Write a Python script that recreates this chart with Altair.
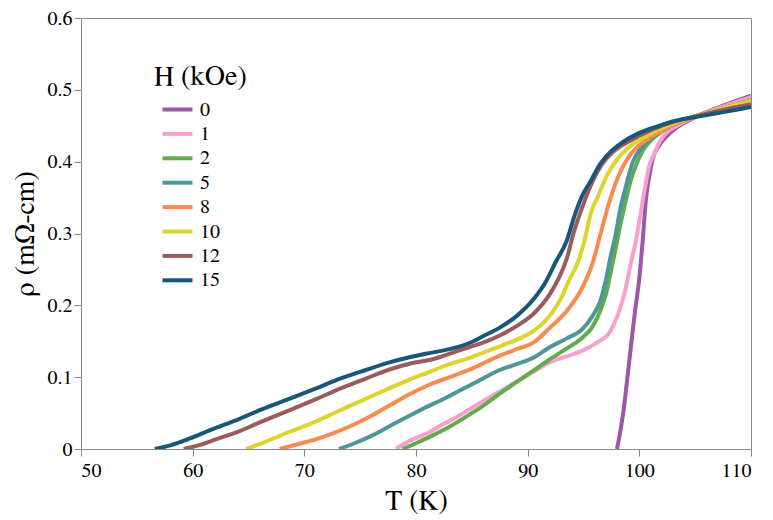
import altair as alt
import pandas as pd

fields = ["0", "1", "2", "5", "8", "10", "12", "15"]
colors = ["#9b58a9", "#f7a0cd", "#62ac4f", "#4f9797", "#f98b50", "#dcd52e", "#9b5a5b", "#17577a"]

T_0 = [98.0, 98.3, 98.6, 98.9, 99.3, 99.6, 100.0, 100.3, 100.6, 100.9, 101.2, 101.8, 102.5, 103.5, 105.0, 107.0, 110.0]
R_0 = [0.0, 0.025, 0.055, 0.095, 0.15, 0.19, 0.238, 0.29, 0.349, 0.38, 0.404, 0.423, 0.436, 0.449, 0.462, 0.475, 0.492]

T_1 = [78.2, 79.5, 81.0, 82.5, 83.7, 85.5, 87.5, 89.0, 90.5, 92.0, 93.5, 94.9, 96.2, 97.4, 98.3, 98.8, 99.2, 99.7, 100.1, 100.6, 100.9, 101.4, 101.8, 102.5, 103.5, 105.0, 107.0, 110.0]
R_1 = [0.0, 0.012, 0.022, 0.035, 0.045, 0.062, 0.080, 0.094, 0.107, 0.121, 0.129, 0.137, 0.148, 0.164, 0.197, 0.225, 0.256, 0.29, 0.326, 0.372, 0.395, 0.413, 0.427, 0.441, 0.451, 0.463, 0.474, 0.490]

T_2 = [78.8, 80.0, 81.5, 83.0, 84.5, 86.0, 87.5, 89.0, 90.5, 92.0, 93.5, 94.9, 95.8, 96.5, 97.0, 97.4, 97.9, 98.3, 98.5, 99.2, 99.7, 100.3, 101.2, 102.0, 103.0, 105.0, 107.5, 110.0]
R_2 = [0.0, 0.008, 0.019, 0.031, 0.045, 0.060, 0.077, 0.093, 0.109, 0.125, 0.140, 0.155, 0.170, 0.192, 0.215, 0.243, 0.280, 0.312, 0.326, 0.372, 0.395, 0.415, 0.432, 0.442, 0.451, 0.463, 0.474, 0.486]

T_5 = [73.1, 74.5, 76.1, 77.9, 79.5, 81.0, 82.4, 84.0, 85.5, 87.5, 89.0, 90.5, 92.0, 93.5, 94.9, 95.8, 96.5, 97.0, 97.4, 97.9, 98.3, 98.7, 99.4, 100.2, 100.9, 102.0, 103.0, 105.0, 107.5, 110.0]
R_5 = [0.0, 0.008, 0.019, 0.034, 0.047, 0.059, 0.069, 0.082, 0.094, 0.110, 0.118, 0.127, 0.142, 0.154, 0.167, 0.185, 0.206, 0.235, 0.266, 0.300, 0.335, 0.360, 0.399, 0.420, 0.432, 0.443, 0.451, 0.463, 0.474, 0.485]

T_8 = [67.8, 69.5, 71.7, 74.0, 76.1, 77.9, 79.5, 81.0, 83.0, 85.0, 87.5, 89.0, 90.5, 92.0, 93.5, 94.9, 95.8, 96.5, 97.2, 98.0, 98.5, 99.2, 100.0, 101.0, 102.0, 103.0, 105.0, 107.5, 110.0]
R_8 = [0.0, 0.007, 0.017, 0.031, 0.047, 0.063, 0.077, 0.088, 0.100, 0.112, 0.130, 0.139, 0.148, 0.169, 0.192, 0.225, 0.258, 0.298, 0.338, 0.375, 0.392, 0.410, 0.423, 0.434, 0.443, 0.451, 0.463, 0.474, 0.484]

T_10 = [64.8, 66.5, 68.7, 71.0, 73.2, 75.5, 77.7, 79.5, 81.0, 83.0, 85.0, 87.5, 89.0, 90.5, 92.0, 93.0, 93.8, 94.4, 95.0, 95.7, 96.3, 97.1, 98.0, 98.9, 100.0, 101.0, 102.0, 103.0, 105.0, 107.5, 110.0]
R_10 = [0.0, 0.010, 0.024, 0.038, 0.054, 0.070, 0.085, 0.097, 0.106, 0.118, 0.128, 0.143, 0.152, 0.164, 0.186, 0.210, 0.238, 0.256, 0.285, 0.330, 0.352, 0.381, 0.403, 0.418, 0.430, 0.439, 0.447, 0.453, 0.463, 0.474, 0.485]

T_12 = [59.2, 60.5, 62.0, 64.2, 66.0, 68.7, 71.0, 73.2, 75.5, 77.7, 79.5, 81.5, 84.0, 86.0, 87.5, 89.0, 90.5, 92.0, 93.0, 93.5, 94.1, 94.9, 95.8, 96.6, 97.6, 98.7, 100.0, 101.5, 103.0, 105.0, 107.5, 110.0]
R_12 = [0.0, 0.005, 0.013, 0.025, 0.037, 0.054, 0.069, 0.084, 0.098, 0.111, 0.119, 0.125, 0.138, 0.148, 0.158, 0.171, 0.188, 0.216, 0.245, 0.265, 0.300, 0.337, 0.372, 0.395, 0.413, 0.425, 0.436, 0.447, 0.455, 0.463, 0.472, 0.480]

T_15 = [56.6, 58.0, 59.8, 61.5, 64.2, 66.0, 68.7, 71.0, 73.2, 75.5, 77.7, 79.5, 81.0, 83.0, 85.0, 86.0, 87.5, 89.0, 90.5, 91.7, 92.5, 93.5, 94.2, 94.9, 95.6, 96.5, 97.5, 98.5, 100.0, 101.8, 103.0, 105.0, 107.5, 110.0]
R_15 = [0.0, 0.005, 0.015, 0.026, 0.042, 0.054, 0.070, 0.084, 0.098, 0.110, 0.121, 0.128, 0.133, 0.139, 0.149, 0.157, 0.169, 0.185, 0.208, 0.235, 0.260, 0.290, 0.325, 0.353, 0.372, 0.397, 0.415, 0.427, 0.440, 0.450, 0.456, 0.462, 0.469, 0.476]

series = {
    "0": (T_0, R_0), "1": (T_1, R_1), "2": (T_2, R_2), "5": (T_5, R_5),
    "8": (T_8, R_8), "10": (T_10, R_10), "12": (T_12, R_12), "15": (T_15, R_15),
}

rows = []
for h, (ts, rs) in series.items():
    for i, (t, r) in enumerate(zip(ts, rs)):
        rows.append({"H": h, "T": t, "rho": r, "idx": i})
df = pd.DataFrame(rows)

x_ticks = [50, 60, 70, 80, 90, 100, 110]
y_ticks = [0, 0.1, 0.2, 0.3, 0.4, 0.5, 0.6]

serif = "FreeSerif, 'Liberation Serif', 'DejaVu Serif', serif"

chart = alt.Chart(df).mark_line(strokeWidth=4, clip=True, interpolate="monotone").encode(
    x=alt.X("T:Q", scale=alt.Scale(domain=[50, 110], nice=False),
            axis=alt.Axis(values=x_ticks, title="T (K)", titlePadding=6, labelPadding=4)),
    y=alt.Y("rho:Q", scale=alt.Scale(domain=[0, 0.6], nice=False),
            axis=alt.Axis(values=y_ticks, format=".1~f", title="ρ (mΩ-cm)", titlePadding=8, labelPadding=2)),
    color=alt.Color("H:N", scale=alt.Scale(domain=fields, range=colors), sort=fields,
                    legend=alt.Legend(title="H (kOe)", orient="none", legendX=73, legendY=45,
                                      titleFont=serif, titleFontSize=28, titleFontWeight="normal",
                                      titleColor="black", titlePadding=8.5,
                                      labelFont=serif, labelFontSize=20, labelColor="black",
                                      symbolType="M-3,0L3,0", symbolSize=100, symbolStrokeWidth=4,
                                      symbolOffset=13.5, rowPadding=4.4, labelOffset=12.5)),
    order=alt.Order("idx:Q"),
    detail="H:N",
).properties(
    width=670, height=431,
    autosize=alt.AutoSizeParams(type="none"),
    padding={"left": 73, "top": 10, "right": 14, "bottom": 70},
).configure_axis(
    domainColor="#888888", tickColor="#888888", tickSize=7, grid=False,
    labelFont=serif, labelFontSize=20, labelColor="black",
    titleFont=serif, titleFontSize=28, titleFontWeight="normal", titleColor="black",
).configure_view(stroke="#888888", strokeWidth=1)

chart.save("out.html", embed_options={"renderer": "svg", "actions": False})
